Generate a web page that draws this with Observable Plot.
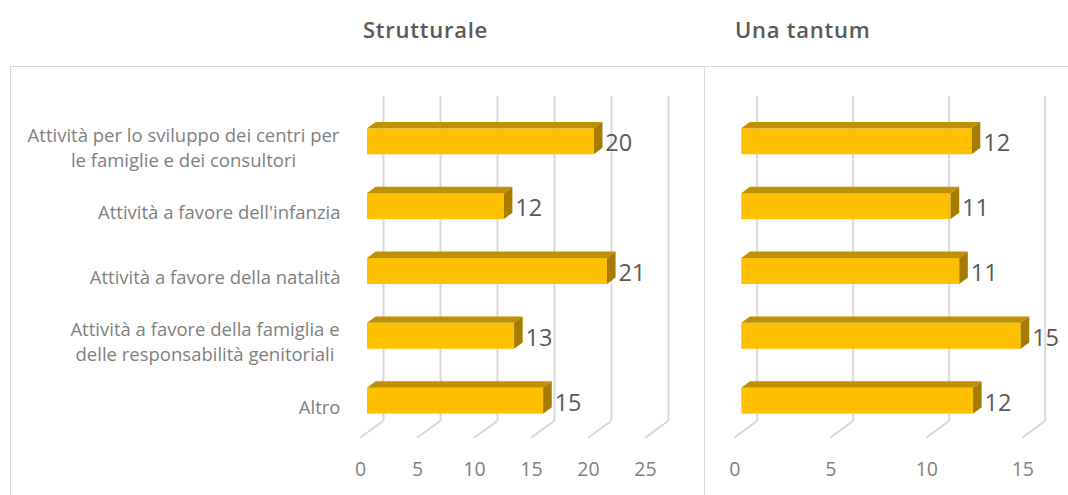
<!DOCTYPE html>
<html>
<head>
<meta charset="utf-8">
<script src="https://cdn.jsdelivr.net/npm/d3@7"></script>
<script src="https://cdn.jsdelivr.net/npm/@observablehq/plot@0.6"></script>
<style>
  html, body { margin: 0; padding: 0; background: #fff; width: 1068px; height: 495px; overflow: hidden; font-family: "Open Sans", sans-serif; }
  #page { position: relative; width: 1068px; height: 495px; }
  .frame { position: absolute; background: #d9d9d9; }
  .title { position: absolute; top: 14px; font-size: 22px; font-weight: 600; letter-spacing: 0.75px; color: #595959; line-height: 30px; }
  .panel { position: absolute; top: 0; }
  .panel svg { display: block; overflow: visible; }
</style>
</head>
<body>
<div id="page">
  <div class="frame" style="left:10px;top:66px;width:1058px;height:1px"></div>
  <div class="frame" style="left:10px;top:66px;width:1px;height:429px"></div>
  <div class="frame" style="left:704px;top:66px;width:1px;height:429px"></div>
  <div class="title" style="left:363px">Strutturale</div>
  <div class="title" style="left:735px">Una tantum</div>
  <div class="panel" id="left" style="left:0"></div>
  <div class="panel" id="right" style="left:705px"></div>
</div>
<script>
const categories = [
  "Attività per lo sviluppo dei centri per\nle famiglie e dei consultori",
  "Attività a favore dell'infanzia",
  "Attività a favore della natalità",
  "Attività a favore della famiglia e\ndelle responsabilità genitoriali",
  "Altro"
];
const strutturale = [19.9, 12.0, 21.05, 12.9, 15.45];
const unaTantum = [12.0, 10.9, 11.35, 14.55, 12.07];
const ticksStrutturale = [0, 5, 10, 15, 20, 25];
const ticksUnaTantum = [0, 5, 10, 15];

const FRONT = "#FFC000", TOP = "#BF9000", SIDE = "#A67C00";
const GRID = "#d9d9d9", AXIS_TEXT = "#7f7f7f", VALUE_TEXT = "#595959";
const DX = 8.6, DY = 6.4;       // depth of a bar in the oblique projection
const WALL_DY = -12;            // from a bar's base to the back wall

function polygons(rows, fill, pointsOf) {
  return (index, scales) => {
    const g = d3.create("svg:g").attr("fill", fill);
    for (const r of rows) g.append("polygon").attr("points", pointsOf(r, scales).map(p => p.join(",")).join(" "));
    return g.node();
  };
}

function panel(values, ticks, opts) {
  const rows = categories.map((c, i) => ({category: c, value: values[i]}));
  const top = ({category, value}, {x, y}) => {
    const y0 = y(category), x0 = x(0), x1 = x(value);
    return [[x0, y0], [x0 + DX, y0 - DY], [x1 + DX, y0 - DY], [x1, y0]];
  };
  const side = ({category, value}, {x, y}) => {
    const y0 = y(category), y1 = y0 + y.bandwidth(), x1 = x(value);
    return [[x1, y0], [x1 + DX, y0 - DY], [x1 + DX, y1 - DY], [x1, y1]];
  };
  const floor = (index, {x}, v, {height, marginBottom}) => {
    const g = d3.create("svg:g").attr("stroke", GRID).attr("stroke-width", 2).attr("fill", "none");
    const b = height - marginBottom;
    for (const t of ticks) {
      g.append("line")
        .attr("x1", x(t) + opts.wallDx).attr("y1", b + WALL_DY)
        .attr("x2", x(t) - 7).attr("y2", b + WALL_DY + 16.6);
    }
    return g.node();
  };
  return Plot.plot({
    width: opts.width,
    height: 495,
    marginLeft: opts.marginLeft,
    marginRight: opts.marginRight,
    marginTop: 108.85,
    marginBottom: 61.9,
    style: {fontFamily: "'Open Sans', sans-serif", background: "transparent", overflow: "visible"},
    x: {domain: [ticks[0], ticks[ticks.length - 1]], axis: null},
    y: {domain: categories, paddingInner: 0.6, paddingOuter: 0.3, round: false, axis: null},
    marks: [
      Plot.ruleX(ticks, {x: d => d, dx: opts.wallDx, dy: WALL_DY, stroke: GRID, strokeWidth: 2, insetTop: -1}),
      floor,
      Plot.axisX(ticks, {anchor: "bottom", tickSize: 0, tickPadding: 0, dx: -7, dy: 28.5, fontSize: 19.5, fill: AXIS_TEXT, textStroke: "none", label: null}),
      Plot.barX(rows, {x: "value", y: "category", fill: FRONT}),
      polygons(rows, TOP, top),
      polygons(rows, SIDE, side),
      Plot.text(rows, {
        x: "value", y: "category", text: d => d3.format(".0f")(d.value),
        textAnchor: "start", dx: 11, dy: 2, fontSize: 23.5, fill: VALUE_TEXT
      }),
      ...(opts.labels || [])
    ]
  });
}

// Category labels: the block ends at a common right edge; lines of a wrapped label are centred on each other.
const labelEdge = -27;
const labelHalfWidths = [157, 0, 0, 135.5, 0];
const categoryLabels = categories.map((c, i) => Plot.text([c], {
  x: () => 0, y: d => d, text: d => d,
  textAnchor: labelHalfWidths[i] ? "middle" : "end",
  dx: labelEdge - labelHalfWidths[i], dy: 4.5,
  fontSize: 18.5, lineHeight: 1.35, fill: AXIS_TEXT
}));

document.getElementById("left").append(panel(strutturale, ticksStrutturale, {
  width: 705, marginLeft: 367, marginRight: 53, wallDx: 16, labels: categoryLabels
}));
document.getElementById("right").append(panel(unaTantum, ticksUnaTantum, {
  width: 363, marginLeft: 36.3, marginRight: 38.7, wallDx: 15.4
}));
</script>
</body>
</html>
